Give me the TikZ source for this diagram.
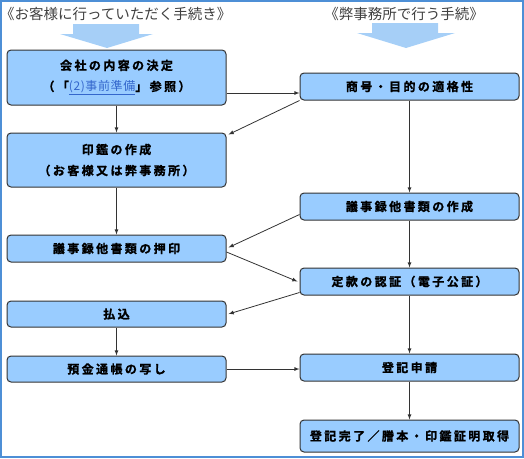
\documentclass[tikz,border=0pt]{standalone}
\usepackage{fontspec}
\newfontfamily\headfont{Noto Sans CJK JP}
\newfontfamily\boxfont[LetterSpace=20,FakeBold=1.2]{Noto Sans CJK JP Bold}
\newfontfamily\linkfont[LetterSpace=5]{Noto Sans CJK JP}
\definecolor{boxblue}{HTML}{99CCFF}
\definecolor{arrowblue}{HTML}{A6CFF7}
\definecolor{framecolor}{HTML}{4D8FD6}
\definecolor{linkblue}{HTML}{3366CC}
\tikzset{%
  >=latex, % option for nice arrows
  step box/.style={draw=black!80,fill=boxblue,rounded corners=4pt,
    line width=1pt,minimum width=219pt,inner sep=0pt,align=center,
    font=\boxfont\fontsize{12}{21}\selectfont},%
  flow/.style={->,line width=0.8pt,black!80},%
  head text/.style={inner sep=0pt,text=black!75,
    font=\headfont\fontsize{14.5}{16}\selectfont},%
  big arrow/.style={fill=arrowblue,draw=none}%
}
\begin{document}
\begin{tikzpicture}[x=1pt,y=-1pt]

%% some definitions

\def\colL{116.5} % centre of the customer column
\def\colR{409.5} % centre of the office column

%% frame

\useasboundingbox (0,0) rectangle (524,458);
\draw[framecolor,line width=2pt] (1,1) rectangle (523,457);

%% headings and big arrows

\node[head text,anchor=west] (headL) at (0,14) {《お客様に行っていただく手続き》};
\node[head text] (headR) at (404,14) {《弊事務所で行う手続》};
\fill[big arrow] (73,24) -- (139,24) -- (139,34) -- (153,34) -- (107,48)
    -- (60,34) -- (73,34) -- cycle;
\fill[big arrow] (372,23) -- (438,23) -- (438,33) -- (455,33) -- (406,48)
    -- (357,33) -- (372,33) -- cycle;

%% customer column

\node[step box,minimum height=55pt] (kaisha) at (\colL,77.5)
    {会社の内容の決定\\（「{\linkfont\fontsize{12}{21}\selectfont
    \color{linkblue}\underline{(2)事前準備}}」参照）};
\node[step box,minimum height=54pt] (inkan) at (\colL,160)
    {印鑑の作成\\（お客様又は弊事務所）};
\node[step box,minimum height=27pt] (oin) at (\colL,248.5) {議事録他書類の押印};
\node[step box,minimum height=26pt] (harai) at (\colL,314) {払込};
\node[step box,minimum height=26pt] (yokin) at (\colL,369) {預金通帳の写し};

%% office column

\node[step box,minimum height=27pt] (shogo) at (\colR,86.5) {商号・目的の適格性};
\node[step box,minimum height=27pt] (sakusei) at (\colR,206.5) {議事録他書類の作成};
\node[step box,minimum height=27pt] (teikan) at (\colR,281.5) {定款の認証（電子公証）};
\node[step box,minimum height=27pt] (shinsei) at (\colR,367.5) {登記申請};
\node[step box,minimum height=32pt] (kanryo) at (\colR,436) {登記完了／謄本・印鑑証明取得};

%% connectors

\draw[flow] (kaisha) -- (inkan);
\draw[flow] ([yshift=-6.5pt]shogo.west -| kaisha.east) -- ([yshift=-6.5pt]shogo.west);
\draw[flow] (shogo.south west) -- ([xshift=2pt,yshift=-2pt]inkan.north east);
\draw[flow] (shogo) -- (sakusei);
\draw[flow] (inkan) -- (oin);
\draw[flow] ([yshift=6pt]sakusei.south west) -- ([xshift=2pt,yshift=1pt]oin.east);
\draw[flow] ([yshift=-3.5pt]oin.east) -- ([xshift=-2pt]teikan.west);
\draw[flow] (sakusei) -- (teikan);
\draw[flow] ([yshift=3pt]teikan.south west) -- ([xshift=2pt]harai.east);
\draw[flow] (teikan) -- (shinsei);
\draw[flow] (harai) -- (yokin);
\draw[flow] (yokin.east) -- (yokin.east -| shinsei.west);
\draw[flow] (shinsei) -- (kanryo);

\end{tikzpicture}
\end{document}
